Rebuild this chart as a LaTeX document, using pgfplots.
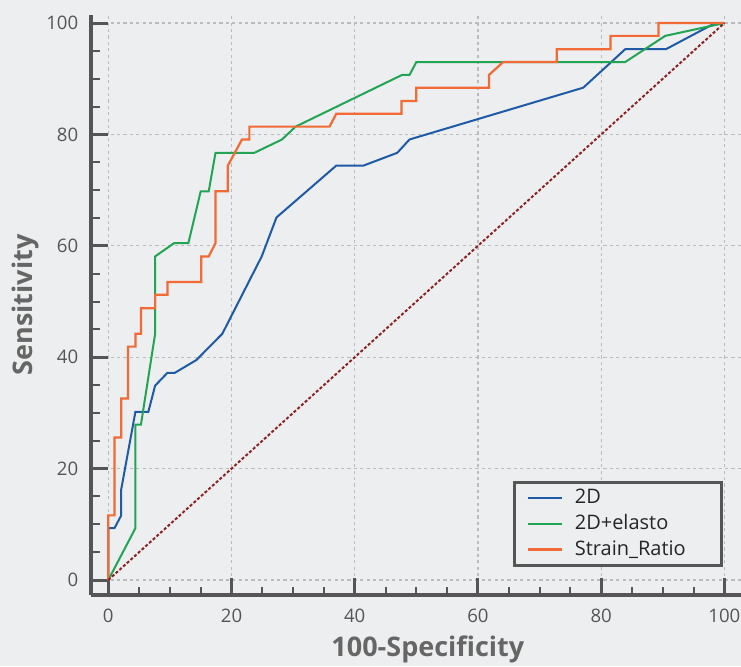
\documentclass[border=0pt]{standalone}
\usepackage{fontspec}
\setmainfont{Open Sans}
\usepackage{pgfplots}
\pgfplotsset{compat=1.18}

\definecolor{bgc}{HTML}{EDEEF0}
\definecolor{axgray}{HTML}{555555}
\definecolor{labgray}{HTML}{666666}
\definecolor{gridgray}{HTML}{BBBBBB}
\definecolor{c2d}{HTML}{1F5AA6}
\definecolor{celasto}{HTML}{22A455}
\definecolor{cstrain}{HTML}{F26A35}
\definecolor{cdiag}{HTML}{8B2323}
\pagecolor{bgc}

\begin{document}
\begin{tikzpicture}
\begin{axis}[
    name=ax,
    scale only axis,
    width=324.85pt, height=290.3pt,
    xmin=-2.76, xmax=102.7,
    ymin=-2.75, ymax=101.5,
    axis x line*=bottom, axis y line*=left,
    axis line style={-, line width=2pt, color=axgray},
    xtick={0,20,...,100}, ytick={0,20,...,100},
    minor x tick num=3, minor y tick num=3,
    tick align=inside,
    major tick length=8.5pt, minor tick length=4.2pt,
    tick style={color=axgray},
    major tick style={line width=1.5pt},
    minor tick style={line width=1pt},
    grid=major,
    major grid style={color=gridgray, line width=0.6pt, dash pattern=on 1.6pt off 1.6pt},
    /pgf/number format/assume math mode=true,
    ticklabel style={font=\fontsize{9.3}{11}\selectfont, text=axgray},
    xticklabel style={yshift=-3.2pt},
    yticklabel style={xshift=-3pt},
    xlabel={100-Specificity},
    ylabel={Sensitivity},
    label style={font=\fontsize{13.5}{16}\selectfont\bfseries, text=labgray, inner sep=0pt},
    xlabel style={at={(axis description cs:0.518,-0.1058)}, anchor=base},
    ylabel style={at={(axis description cs:-0.0911,0.5)}, anchor=base, rotate=0},
    legend style={at={(0.649,0.049)}, anchor=south west, draw=axgray, line width=1.5pt,
        fill=bgc, font=\fontsize{10}{12}\selectfont, text=black!85,
        inner xsep=6pt, inner ysep=1.5pt, row sep=0pt, column sep=4pt},
    legend cell align=left,
]
\addplot[c2d, line width=1pt] coordinates {
(0,0) (0,9.3) (1.0,9.3) (2.1,11.6) (2.1,16.3) (4.4,30.2) (6.5,30.2) (7.6,34.9)
(9.6,37.2) (10.8,37.2) (14.3,39.5) (18.5,44.2) (24.9,58.1) (27.3,65.1) (37.0,74.4)
(41.4,74.4) (46.9,76.7) (48.9,79.1) (77.1,88.4) (83.9,95.3) (90.5,95.3) (98.5,100) (100,100)
};
\addlegendentry{2D}
\addplot[celasto, line width=1pt] coordinates {
(0,0) (4.4,9.3) (4.4,27.9) (5.3,27.9) (7.6,44.2) (7.6,58.1) (10.7,60.5) (13.0,60.5)
(15.0,69.8) (16.3,69.8) (17.4,76.7) (23.7,76.7) (28.2,79.1) (30.4,81.4) (47.7,90.7)
(48.9,90.7) (50.0,93.0) (83.9,93.0) (90.4,97.7) (100,100)
};
\addlegendentry{2D+elasto}
\addplot[cstrain, line width=1.1pt] coordinates {
(0,0) (0,11.6) (1.0,11.6) (1.0,25.6) (2.1,25.6) (2.1,32.6) (3.2,32.6) (3.2,41.9)
(4.4,41.9) (4.4,44.2) (5.3,44.2) (5.3,48.8) (7.6,48.8) (7.6,51.2) (9.6,51.2) (9.6,53.5)
(15.1,53.5) (15.1,58.1) (16.3,58.1) (17.4,60.5) (17.4,69.8) (19.4,69.8) (19.4,74.4)
(21.7,79.1) (22.9,79.1) (22.9,81.4) (35.9,81.4) (37.0,83.7) (47.6,83.7) (47.6,86.0)
(50.0,86.0) (50.0,88.4) (61.8,88.4) (61.8,90.7) (64.1,93.0) (72.8,93.0) (72.8,95.3)
(81.5,95.3) (81.5,97.7) (89.3,97.7) (89.3,100) (100,100)
};
\addlegendentry{Strain\_Ratio\hspace*{10pt}}
\addplot[cdiag, line width=1pt, dash pattern=on 1.5pt off 1pt, forget plot] coordinates {
(0,0) (100,100)
};
\end{axis}
\pgfresetboundingbox
\path ([xshift=-45.65pt,yshift=-35.35pt]ax.south west) rectangle ([yshift=7.35pt]ax.north east);
\end{tikzpicture}
\end{document}
